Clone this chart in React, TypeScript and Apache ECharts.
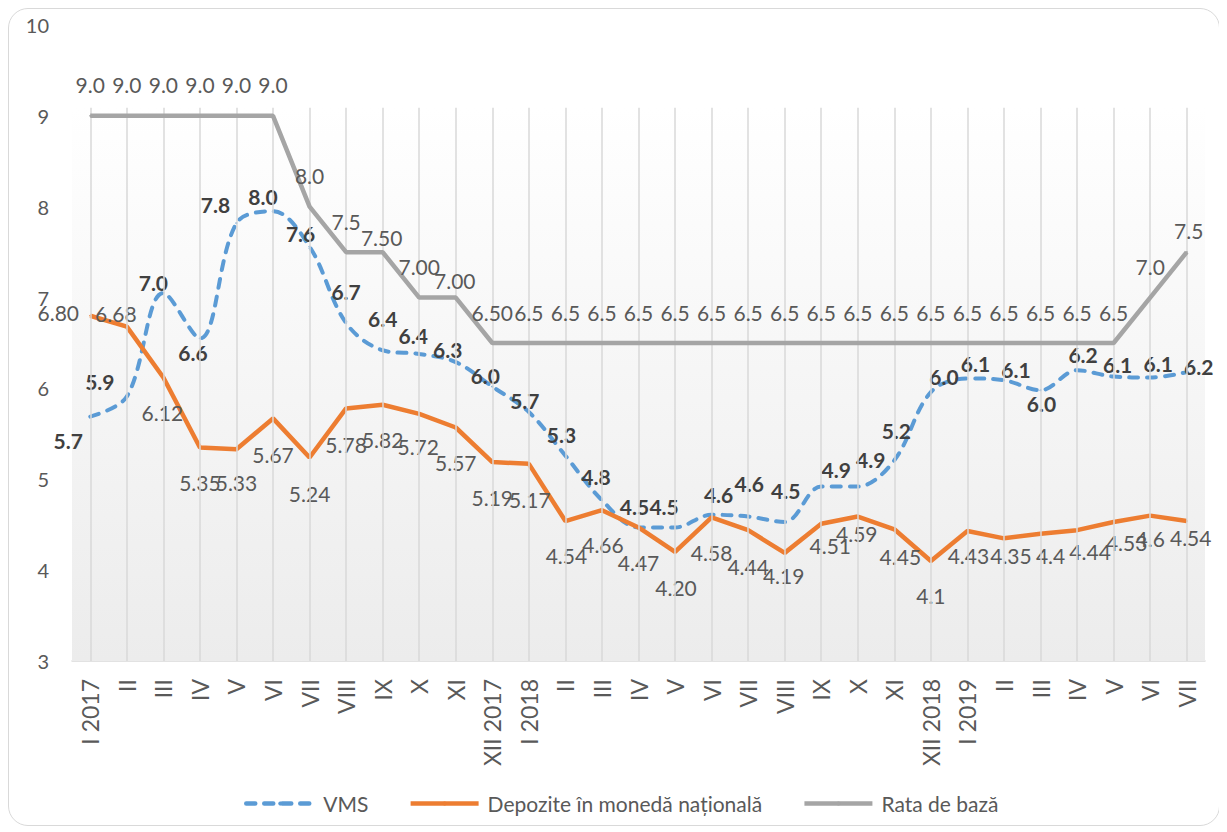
import React, { useEffect, useRef } from "react";
import * as echarts from "echarts";

const categories = [
  "I 2017", "II", "III", "IV", "V", "VI", "VII", "VIII", "IX", "X", "XI", "XII 2017",
  "I 2018", "II", "III", "IV", "V", "VI", "VII", "VIII", "IX", "X", "XI", "XII 2018",
  "I 2019", "II", "III", "IV", "V", "VI", "VII",
];

const vmsValues = [
  5.69, 5.91, 7.05, 6.55, 7.82, 7.95, 7.56, 6.72, 6.42, 6.38, 6.29, 6.02,
  5.74, 5.26, 4.77, 4.47, 4.47, 4.61, 4.59, 4.53, 4.92, 4.92, 5.21, 5.96,
  6.11, 6.09, 5.98, 6.2, 6.13, 6.12, 6.18,
];
const vmsLabels = [
  "5.7", "5.9", "7.0", "6.6", "7.8", "8.0", "7.6", "6.7", "6.4", "6.4", "6.3", "6.0",
  "5.7", "5.3", "4.8", "4.5", "4.5", "4.6", "4.6", "4.5", "4.9", "4.9", "5.2", "6.0",
  "6.1", "6.1", "6.0", "6.2", "6.1", "6.1", "6.2",
];

const depValues = [
  6.8, 6.68, 6.12, 5.35, 5.33, 5.67, 5.24, 5.78, 5.82, 5.72, 5.57, 5.19,
  5.17, 4.54, 4.66, 4.47, 4.2, 4.58, 4.44, 4.19, 4.51, 4.59, 4.45, 4.1,
  4.43, 4.35, 4.4, 4.44, 4.53, 4.6, 4.54,
];
const depLabels = [
  "6.80", "6.68", "6.12", "5.35", "5.33", "5.67", "5.24", "5.78", "5.82", "5.72", "5.57", "5.19",
  "5.17", "4.54", "4.66", "4.47", "4.20", "4.58", "4.44", "4.19", "4.51", "4.59", "4.45", "4.1",
  "4.43", "4.35", "4.4", "4.44", "4.53", "4.6", "4.54",
];

const rateValues = [
  9, 9, 9, 9, 9, 9, 8, 7.5, 7.5, 7, 7, 6.5,
  6.5, 6.5, 6.5, 6.5, 6.5, 6.5, 6.5, 6.5, 6.5, 6.5, 6.5, 6.5,
  6.5, 6.5, 6.5, 6.5, 6.5, 7, 7.5,
];
const rateLabels = [
  "9.0", "9.0", "9.0", "9.0", "9.0", "9.0", "8.0", "7.5", "7.50", "7.00", "7.00", "6.50",
  "6.5", "6.5", "6.5", "6.5", "6.5", "6.5", "6.5", "6.5", "6.5", "6.5", "6.5", "6.5",
  "6.5", "6.5", "6.5", "6.5", "6.5", "7.0", "7.5",
];

const seriesNames = ["VMS", "Depozite în monedă națională", "Rata de bază"];
const yTicks = { min: 3, max: 10, interval: 1 };

// label placement (offset of label centre from its point, px)
const vmsLabelOffset = [
  [-22, 24], [-27, -15], [-10, -11], [-7, 14], [-21, -19], [-10, -15], [-9, -13], [0, -32],
  [0, -32], [-6, -18], [-8, -13], [-7, -11], [-4, -12], [-4, -21], [-6, -24], [-4, -21],
  [-11, -21], [7, -20], [1, -33], [1, -31], [15, -17], [13, -27], [2, -30], [13, -16],
  [8, -15], [12, -11], [1, 13], [6, -16], [4, -12], [8, -14], [12, -6],
];
const depLabelOffset = [
  [-32, -3], [-11, -13], [-1, 35], [0, 35], [0, 33], [0, 36], [0, 36], [0, 36],
  [0, 35], [-1, 33], [0, 35], [0, 35], [1, 36], [1, 34], [1, 34], [0, 35],
  [1, 36], [0, 35], [0, 36], [-1, 23], [9, 22], [-1, 17], [6, 27], [0, 34],
  [1, 24], [7, 17], [10, 22], [13, 21], [13, 21], [0, 23], [4, 16],
];
const rateLabelOffsetSpecial: Record<number, number[]> = { 8: [-1, -15], 10: [-1, -17], 30: [2, -22] };

const PLOT_TOP_VALUE = 9.09;

export default function App() {
  const ref = useRef<HTMLDivElement>(null);

  useEffect(() => {
    if (!ref.current) return;
    const chart = echarts.init(ref.current, null, { renderer: "svg" });
    const font = "Lato";

    const mkData = (vals: number[], labels: string[], offs: (i: number) => number[]) =>
      vals.map((v, i) => ({ value: v, label: { formatter: labels[i], offset: offs(i) } }));

    const baseLabel = {
      show: true,
      position: "inside",
      align: "center",
      verticalAlign: "middle",
      fontFamily: font,
      fontSize: 21,
      color: "#595959",
    };

    const option = {
      animation: false,
      textStyle: { fontFamily: font },
      grid: { left: 63, top: 16, width: 1133, height: 636, containLabel: false },
      legend: {
        left: 230,
        top: 779,
        itemWidth: 68,
        itemHeight: 5,
        itemGap: 40,
        data: seriesNames,
        lineStyle: { width: 4.5 },
        textStyle: { fontFamily: font, fontSize: 21, color: "#595959", padding: [0, 0, 0, 4] },
      },
      xAxis: {
        type: "category",
        data: categories,
        boundaryGap: true,
        axisLine: { show: true, lineStyle: { color: "#d9d9d9", width: 1.5 } },
        axisTick: { show: false },
        splitLine: { show: false },
        axisLabel: {
          interval: 0,
          rotate: 90,
          margin: 18,
          fontFamily: font,
          fontSize: 23,
          color: "#595959",
        },
      },
      yAxis: {
        type: "value",
        min: yTicks.min,
        max: yTicks.max,
        interval: yTicks.interval,
        axisLine: { show: false },
        axisTick: { show: false },
        splitLine: { show: false },
        axisLabel: { margin: 23, fontFamily: font, fontSize: 20, color: "#595959" },
      },
      series: [
        {
          name: "_bg",
          type: "line",
          data: [],
          z: 0,
          silent: true,
          markArea: {
            silent: true,
            itemStyle: {
              color: new echarts.graphic.LinearGradient(0, 0, 0, 1, [
                { offset: 0, color: "#ffffff" },
                { offset: 1, color: "#ececec" },
              ]),
            },
            data: [[{ yAxis: yTicks.min }, { yAxis: PLOT_TOP_VALUE }]],
          },
          markLine: {
            silent: true,
            symbol: "none",
            label: { show: false },
            lineStyle: { color: "#d9d9d9", width: 1.5, type: "solid" },
            data: categories.map((_, i) => [
              { coord: [i, yTicks.min] },
              { coord: [i, PLOT_TOP_VALUE] },
            ]),
          },
        },
        {
          name: seriesNames[0],
          type: "line",
          z: 3,
          smooth: 0.35,
          symbol: "circle",
          symbolSize: 2,
          itemStyle: { color: "#5B9BD5" },
          lineStyle: { color: "#5B9BD5", width: 4, type: [9, 9], cap: "round" },
          label: { ...baseLabel, fontWeight: "bold", color: "#404040" },
          data: mkData(vmsValues, vmsLabels, (i) => vmsLabelOffset[i]),
        },
        {
          name: seriesNames[1],
          type: "line",
          z: 4,
          symbol: "circle",
          symbolSize: 2,
          itemStyle: { color: "#ED7D31" },
          lineStyle: { color: "#ED7D31", width: 4.5 },
          label: { ...baseLabel },
          data: mkData(depValues, depLabels, (i) => depLabelOffset[i]),
        },
        {
          name: seriesNames[2],
          type: "line",
          z: 5,
          symbol: "circle",
          symbolSize: 2,
          itemStyle: { color: "#A5A5A5" },
          lineStyle: { color: "#A5A5A5", width: 4.5 },
          label: { ...baseLabel },
          data: mkData(rateValues, rateLabels, (i) => rateLabelOffsetSpecial[i] || [0, -31]),
        },
      ],
    };

    chart.setOption(option as any);
    return () => chart.dispose();
  }, []);

  return (
    <div
      ref={ref}
      style={{
        width: 1212,
        height: 818,
        border: "1px solid #d9d9d9",
        borderRadius: 20,
        boxSizing: "border-box",
        background: "#ffffff",
      }}
    />
  );
}
